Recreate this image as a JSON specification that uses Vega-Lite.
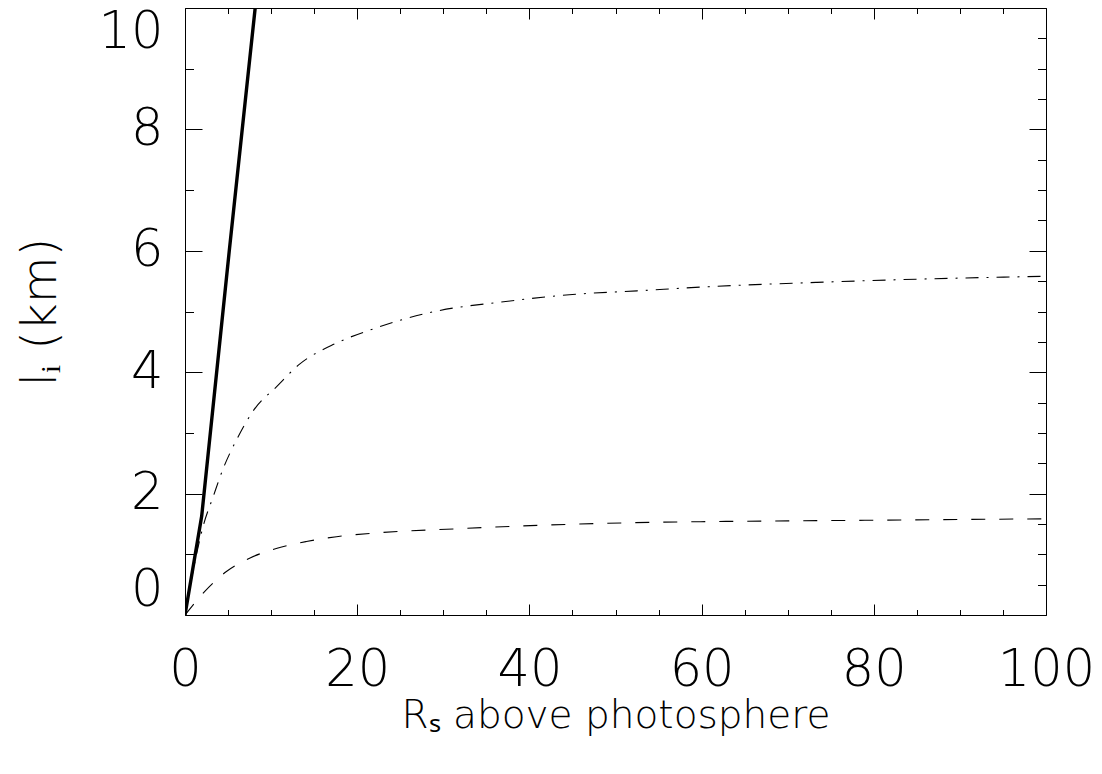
{
  "$schema": "https://vega.github.io/schema/vega-lite/v6.json",
  "width": 861,
  "height": 607,
  "autosize": "none",
  "padding": {"left": 185, "top": 8, "right": 56, "bottom": 159},
  "background": "white",
  "config": {
    "view": {"stroke": null},
    "axis": {
      "grid": false,
      "domainColor": "black",
      "domainWidth": 1,
      "tickColor": "black",
      "tickWidth": 1,
      "labelFont": "DejaVu Sans",
      "labelFontWeight": 200,
      "labelColor": "black",
      "labelFontSize": 51,
      "titleFont": "DejaVu Sans",
      "titleFontWeight": 200,
      "titleColor": "black",
      "titleFontSize": 39
    }
  },
  "datasets": {
    "curves": [
      {"x": 0, "y": 0, "series": "solid"},
      {"x": 1.94, "y": 1.63, "series": "solid"},
      {"x": 5.15, "y": 6.01, "series": "solid"},
      {"x": 8.15, "y": 10.0, "series": "solid"},
      {"x": 0, "y": 0, "series": "dashdot"},
      {"x": 0.97, "y": 0.75, "series": "dashdot"},
      {"x": 2.1, "y": 1.46, "series": "dashdot"},
      {"x": 3.3, "y": 1.96, "series": "dashdot"},
      {"x": 4.4, "y": 2.4, "series": "dashdot"},
      {"x": 6.0, "y": 2.89, "series": "dashdot"},
      {"x": 8.0, "y": 3.38, "series": "dashdot"},
      {"x": 10.7, "y": 3.77, "series": "dashdot"},
      {"x": 13.2, "y": 4.12, "series": "dashdot"},
      {"x": 17.6, "y": 4.48, "series": "dashdot"},
      {"x": 22.0, "y": 4.72, "series": "dashdot"},
      {"x": 29.0, "y": 5.0, "series": "dashdot"},
      {"x": 37.0, "y": 5.16, "series": "dashdot"},
      {"x": 45.0, "y": 5.28, "series": "dashdot"},
      {"x": 52.5, "y": 5.34, "series": "dashdot"},
      {"x": 61.0, "y": 5.41, "series": "dashdot"},
      {"x": 73.4, "y": 5.48, "series": "dashdot"},
      {"x": 87.0, "y": 5.54, "series": "dashdot"},
      {"x": 100.0, "y": 5.58, "series": "dashdot"},
      {"x": 0, "y": 0, "series": "dashed"},
      {"x": 2.3, "y": 0.39, "series": "dashed"},
      {"x": 4.85, "y": 0.72, "series": "dashed"},
      {"x": 7.56, "y": 0.94, "series": "dashed"},
      {"x": 10.7, "y": 1.1, "series": "dashed"},
      {"x": 14.1, "y": 1.21, "series": "dashed"},
      {"x": 17.6, "y": 1.29, "series": "dashed"},
      {"x": 22.0, "y": 1.35, "series": "dashed"},
      {"x": 31.5, "y": 1.42, "series": "dashed"},
      {"x": 41.6, "y": 1.48, "series": "dashed"},
      {"x": 51.7, "y": 1.52, "series": "dashed"},
      {"x": 61.8, "y": 1.54, "series": "dashed"},
      {"x": 79.0, "y": 1.56, "series": "dashed"},
      {"x": 100.0, "y": 1.585, "series": "dashed"}
    ]
  },
  "data": {"name": "curves"},
  "resolve": {"axis": {"x": "independent", "y": "independent"}},
  "layer": [
    {
      "transform": [{"filter": "datum.series === 'solid'"}],
      "mark": {"type": "line", "color": "black", "strokeWidth": 3.4, "clip": true},
      "encoding": {
        "x": {
          "field": "x", "type": "quantitative",
          "scale": {"domain": [0, 100], "nice": false, "zero": false},
          "axis": {
            "orient": "bottom",
            "values": [0,5,10,15,20,25,30,35,40,45,50,55,60,65,70,75,80,85,90,95,100],
            "tickSize": {"condition": {"test": "datum.value % 20 === 0", "value": -11}, "value": -5.5},
            "format": "d",
            "labelExpr": "datum.value % 20 === 0 ? datum.label : ''",
            "labelPadding": 41,
            "labelBaseline": "top",
            "labelFlush": false,
            "title": "Rₛ above photosphere",
            "titleBaseline": "alphabetic",
            "titleY": 112
          }
        },
        "y": {
          "field": "y", "type": "quantitative",
          "scale": {"domain": [0, 10], "nice": false, "zero": false},
          "axis": {
            "orient": "left",
            "values": [0,0.5,1,1.5,2,2.5,3,3.5,4,4.5,5,5.5,6,6.5,7,7.5,8,8.5,9,9.5,10],
            "tickSize": {"condition": {"test": "datum.value % 2 === 0", "value": -17}, "value": -8.5},
            "format": "d",
            "labelExpr": "datum.value % 2 === 0 ? datum.label : ''",
            "labelPadding": 39,
            "labelFlush": true,
            "labelFlushOffset": 1,
            "title": "lᵢ (km)",
            "titleFontSize": 48,
            "titleBaseline": "alphabetic",
            "titleX": -130
          }
        }
      }
    },
    {
      "transform": [{"filter": "datum.series !== 'solid'"}],
      "mark": {"type": "line", "color": "black", "strokeWidth": 1.1, "interpolate": "monotone", "clip": true},
      "encoding": {
        "x": {"field": "x", "type": "quantitative", "axis": {
            "orient": "top",
            "values": [0,5,10,15,20,25,30,35,40,45,50,55,60,65,70,75,80,85,90,95,100],
            "tickSize": {"condition": {"test": "datum.value % 20 === 0", "value": -11}, "value": -5.5},
            "labels": false, "title": null}},
        "y": {"field": "y", "type": "quantitative", "axis": {
            "orient": "right",
            "values": [0,0.5,1,1.5,2,2.5,3,3.5,4,4.5,5,5.5,6,6.5,7,7.5,8,8.5,9,9.5,10],
            "tickSize": {"condition": {"test": "datum.value % 2 === 0", "value": -17}, "value": -8.5},
            "labels": false, "title": null}},
        "strokeDash": {
          "field": "series", "type": "nominal",
          "scale": {"domain": ["dashdot", "dashed"], "range": [[13, 8, 2, 8], [14, 14]]},
          "legend": null
        }
      }
    }
  ]
}
